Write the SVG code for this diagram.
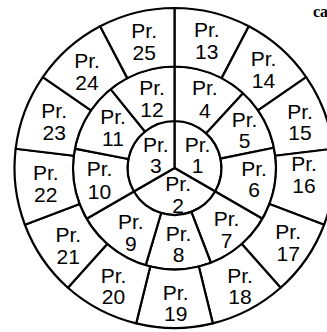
<svg xmlns="http://www.w3.org/2000/svg" width="327" height="332" viewBox="0 0 327 332">
<style>
.s{fill:#fff;stroke:#000;stroke-width:2.2;stroke-linejoin:round}
.t{font-family:"Liberation Sans",Arial,sans-serif;font-size:21px;fill:#000;text-anchor:middle}
.c{font-family:"Liberation Serif","Times New Roman",serif;font-size:16px;font-weight:bold;fill:#000}
</style>
<rect width="327" height="332" fill="#fff"/>
<text class="c" x="313" y="16.5">ca</text>
<g id="connectors"></g>
<g id="pr1"><path class="s" d="M174.5,168 L174.5,121 A47,47 0 0 1 215.2,191.5 Z"/><text class="t"><tspan x="197.5" y="151.5">Pr.</tspan><tspan x="197.5" y="173.3">1</tspan></text></g>
<g id="pr2"><path class="s" d="M174.5,168 L215.2,191.5 A47,47 0 0 1 133.8,191.5 Z"/><text class="t"><tspan x="178.2" y="191.3">Pr.</tspan><tspan x="178.2" y="212.8">2</tspan></text></g>
<g id="pr3"><path class="s" d="M174.5,168 L133.8,191.5 A47,47 0 0 1 174.5,121 Z"/><text class="t"><tspan x="155.8" y="151.5">Pr.</tspan><tspan x="155.8" y="173.3">3</tspan></text></g>
<g id="pr4"><path class="s" d="M174.5,66.5 A101.5,101.5 0 0 1 243.07,93.16 L206.25,133.35 A47,47 0 0 0 174.5,121 Z"/><text class="t"><tspan x="204.8" y="95">Pr.</tspan><tspan x="204.8" y="117.5">4</tspan></text></g>
<g id="pr5"><path class="s" d="M243.07,93.16 A101.5,101.5 0 0 1 273.96,147.76 L220.56,158.63 A47,47 0 0 0 206.25,133.35 Z"/><text class="t"><tspan x="244.5" y="126.5">Pr.</tspan><tspan x="244.5" y="148.3">5</tspan></text></g>
<g id="pr6"><path class="s" d="M273.96,147.76 A101.5,101.5 0 0 1 262.4,218.75 L215.2,191.5 A47,47 0 0 0 220.56,158.63 Z"/><text class="t"><tspan x="254" y="175.5">Pr.</tspan><tspan x="254" y="197.2">6</tspan></text></g>
<g id="pr7"><path class="s" d="M262.4,218.75 A101.5,101.5 0 0 1 210.88,262.76 L191.34,211.88 A47,47 0 0 0 215.2,191.5 Z"/><text class="t"><tspan x="226.5" y="226">Pr.</tspan><tspan x="226.5" y="247.7">7</tspan></text></g>
<g id="pr8"><path class="s" d="M210.88,262.76 A101.5,101.5 0 0 1 145.67,265.32 L161.15,213.06 A47,47 0 0 0 191.34,211.88 Z"/><text class="t"><tspan x="178.5" y="240.5">Pr.</tspan><tspan x="178.5" y="262.2">8</tspan></text></g>
<g id="pr9"><path class="s" d="M145.67,265.32 A101.5,101.5 0 0 1 86.6,218.75 L133.8,191.5 A47,47 0 0 0 161.15,213.06 Z"/><text class="t"><tspan x="130.8" y="229.3">Pr.</tspan><tspan x="130.8" y="251">9</tspan></text></g>
<g id="pr10"><path class="s" d="M86.6,218.75 A101.5,101.5 0 0 1 74.87,148.63 L128.36,159.03 A47,47 0 0 0 133.8,191.5 Z"/><text class="t"><tspan x="99.5" y="176">Pr.</tspan><tspan x="99.5" y="198.5">10</tspan></text></g>
<g id="pr11"><path class="s" d="M74.87,148.63 A101.5,101.5 0 0 1 110.63,89.12 L144.92,131.48 A47,47 0 0 0 128.36,159.03 Z"/><text class="t"><tspan x="113" y="123.5">Pr.</tspan><tspan x="113" y="146">11</tspan></text></g>
<g id="pr12"><path class="s" d="M110.63,89.12 A101.5,101.5 0 0 1 174.5,66.5 L174.5,121 A47,47 0 0 0 144.92,131.48 Z"/><text class="t"><tspan x="152" y="95">Pr.</tspan><tspan x="152" y="116.7">12</tspan></text></g>
<g id="pr13"><path class="s" d="M174.5,8 A160,160 0 0 1 248.85,26.32 L221.67,78.12 A101.5,101.5 0 0 0 174.5,66.5 Z"/><text class="t"><tspan x="206.8" y="37">Pr.</tspan><tspan x="206.8" y="58.6">13</tspan></text></g>
<g id="pr14"><path class="s" d="M248.85,26.32 A160,160 0 0 1 306.18,77.1 L258.03,110.34 A101.5,101.5 0 0 0 221.67,78.12 Z"/><text class="t"><tspan x="263.5" y="65.7">Pr.</tspan><tspan x="263.5" y="88">14</tspan></text></g>
<g id="pr15"><path class="s" d="M306.18,77.1 A160,160 0 0 1 333.33,148.72 L275.26,155.77 A101.5,101.5 0 0 0 258.03,110.34 Z"/><text class="t"><tspan x="300" y="118.5">Pr.</tspan><tspan x="300" y="140.3">15</tspan></text></g>
<g id="pr16"><path class="s" d="M333.33,148.72 A160,160 0 0 1 324.1,224.74 L269.4,203.99 A101.5,101.5 0 0 0 275.26,155.77 Z"/><text class="t"><tspan x="304" y="170.5">Pr.</tspan><tspan x="304" y="192.8">16</tspan></text></g>
<g id="pr17"><path class="s" d="M324.1,224.74 A160,160 0 0 1 280.6,287.76 L241.8,243.97 A101.5,101.5 0 0 0 269.4,203.99 Z"/><text class="t"><tspan x="288.2" y="239.3">Pr.</tspan><tspan x="288.2" y="261">17</tspan></text></g>
<g id="pr18"><path class="s" d="M280.6,287.76 A160,160 0 0 1 212.79,323.34 L198.79,266.55 A101.5,101.5 0 0 0 241.8,243.97 Z"/><text class="t"><tspan x="240" y="282.8">Pr.</tspan><tspan x="240" y="304.4">18</tspan></text></g>
<g id="pr19"><path class="s" d="M212.79,323.34 A160,160 0 0 1 136.21,323.34 L150.21,266.55 A101.5,101.5 0 0 0 198.79,266.55 Z"/><text class="t"><tspan x="175.7" y="299.6">Pr.</tspan><tspan x="175.7" y="321.2">19</tspan></text></g>
<g id="pr20"><path class="s" d="M136.21,323.34 A160,160 0 0 1 67.9,287.76 L107.2,243.97 A101.5,101.5 0 0 0 150.21,266.55 Z"/><text class="t"><tspan x="113.5" y="282.5">Pr.</tspan><tspan x="113.5" y="304.1">20</tspan></text></g>
<g id="pr21"><path class="s" d="M67.9,287.76 A160,160 0 0 1 24.9,224.74 L79.6,203.99 A101.5,101.5 0 0 0 107.2,243.97 Z"/><text class="t"><tspan x="68.3" y="242">Pr.</tspan><tspan x="68.3" y="263.6">21</tspan></text></g>
<g id="pr22"><path class="s" d="M24.9,224.74 A160,160 0 0 1 15.67,148.72 L73.74,155.77 A101.5,101.5 0 0 0 79.6,203.99 Z"/><text class="t"><tspan x="45.8" y="180">Pr.</tspan><tspan x="45.8" y="202">22</tspan></text></g>
<g id="pr23"><path class="s" d="M15.67,148.72 A160,160 0 0 1 42.82,77.1 L90.97,110.34 A101.5,101.5 0 0 0 73.74,155.77 Z"/><text class="t"><tspan x="54.2" y="118.3">Pr.</tspan><tspan x="54.2" y="139.9">23</tspan></text></g>
<g id="pr24"><path class="s" d="M42.82,77.1 A160,160 0 0 1 100.15,26.32 L127.33,78.12 A101.5,101.5 0 0 0 90.97,110.34 Z"/><text class="t"><tspan x="87" y="67.7">Pr.</tspan><tspan x="87" y="90">24</tspan></text></g>
<g id="pr25"><path class="s" d="M100.15,26.32 A160,160 0 0 1 174.5,8 L174.5,66.5 A101.5,101.5 0 0 0 127.33,78.12 Z"/><text class="t"><tspan x="144.2" y="38">Pr.</tspan><tspan x="144.2" y="60">25</tspan></text></g>
</svg>
